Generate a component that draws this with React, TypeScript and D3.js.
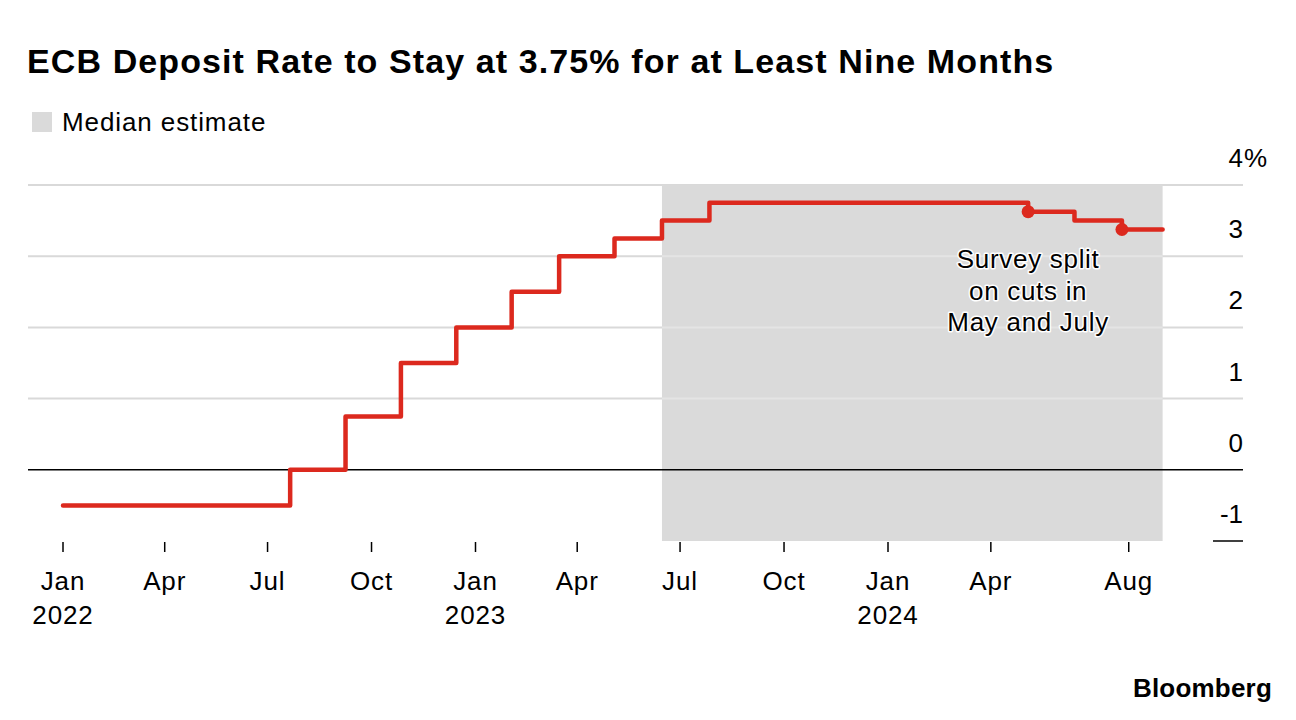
import React, { useEffect } from "react";
import * as d3 from "d3";

// step dates (policy decisions) and the deposit rate that applies from each date
const stepDates = [
  "2022-01-01",
  "2022-07-21",
  "2022-09-08",
  "2022-10-27",
  "2022-12-15",
  "2023-02-02",
  "2023-03-16",
  "2023-05-04",
  "2023-06-15",
  "2023-07-27",
  "2024-05-04",
  "2024-06-14",
  "2024-07-26",
];
const rates = [-0.5, 0, 0.75, 1.5, 2, 2.5, 3, 3.25, 3.5, 3.75, 3.625, 3.5, 3.375];
const lastDate = "2024-08-31";

// survey markers
const markerDates = ["2024-05-04", "2024-07-26"];
const markerRates = [3.625, 3.375];

// median estimate window
const shadeStart = "2023-06-15";
const shadeEnd = "2024-08-31";

const xTickDates = [
  "2022-01-01", "2022-04-01", "2022-07-01", "2022-10-01",
  "2023-01-01", "2023-04-01", "2023-07-01", "2023-10-01",
  "2024-01-01", "2024-04-01", "2024-08-01",
];
const xTickLabels = ["Jan", "Apr", "Jul", "Oct", "Jan", "Apr", "Jul", "Oct", "Jan", "Apr", "Aug"];
const xYearLabels = ["2022", "", "", "", "2023", "", "", "", "2024", "", ""];

const yTicks = [4, 3, 2, 1, 0, -1];

const annotation = ["Survey split", "on cuts in", "May and July"];

const W = 1296;
const H = 720;
const RED = "#dc291e";
const FONT = "'Liberation Sans', Arial, Helvetica, sans-serif";
const LABEL = 26;
const LS = 0.9;

const parse = d3.utcParse("%Y-%m-%d");

const App: React.FC = () => {
  useEffect(() => {
    document.body.style.margin = "0";
  }, []);

  const x = d3
    .scaleUtc()
    .domain([parse("2022-01-01")!, parse("2024-01-01")!])
    .range([63, 888]);

  const y = d3.scaleLinear().domain([-1, 4]).range([541, 185]);

  const gridLeft = 28;
  const gridRight = 1243;

  const series = stepDates.map((d, i) => ({ date: parse(d)!, v: rates[i] }));
  series.push({ date: parse(lastDate)!, v: rates[rates.length - 1] });

  const line = d3
    .line<{ date: Date; v: number }>()
    .x((d) => x(d.date))
    .y((d) => y(d.v))
    .curve(d3.curveStepAfter);

  const sx0 = x(parse(shadeStart)!);
  const sx1 = x(parse(shadeEnd)!);

  const annX = x(parse(markerDates[0])!);

  return (
    <svg width={W} height={H} style={{ display: "block", background: "#fff" }} fontFamily={FONT}>
      {/* title */}
      <text x={27} y={73} fontSize={34} fontWeight="bold" letterSpacing={1.1} fill="#000">
        ECB Deposit Rate to Stay at 3.75% for at Least Nine Months
      </text>

      {/* legend */}
      <rect x={32} y={112} width={20} height={20} fill="#dadada" />
      <text x={62} y={131} fontSize={LABEL} letterSpacing={LS} fill="#000">
        Median estimate
      </text>

      {/* grid */}
      {yTicks
        .filter((t) => t > 0)
        .map((t) => (
          <line
            key={"g" + t}
            x1={gridLeft}
            x2={gridRight}
            y1={y(t)}
            y2={y(t)}
            stroke="#d9d9d9"
            strokeWidth={2}
          />
        ))}

      {/* shaded median estimate window */}
      <rect x={sx0} y={y(4)} width={sx1 - sx0} height={y(-1) - y(4)} fill="#dadada" />
      {yTicks
        .filter((t) => t > 0 && t < 4)
        .map((t) => (
          <line
            key={"gs" + t}
            x1={sx0}
            x2={sx1}
            y1={y(t)}
            y2={y(t)}
            stroke="#e4e4e4"
            strokeWidth={2}
          />
        ))}

      {/* zero line and -1 stub */}
      <line x1={gridLeft} x2={gridRight} y1={y(0)} y2={y(0)} stroke="#000" strokeWidth={1.5} />
      <line x1={1213} x2={gridRight} y1={y(-1)} y2={y(-1)} stroke="#000" strokeWidth={1.5} />

      {/* y labels */}
      {yTicks.map((t) => (
        <g key={"yl" + t}>
          <text x={gridRight} y={y(t) - 18} fontSize={LABEL} textAnchor="end" fill="#000">
            {t}
          </text>
          {t === 4 && (
            <text x={gridRight + 1} y={y(t) - 18} fontSize={LABEL} fill="#000">
              %
            </text>
          )}
        </g>
      ))}

      {/* x ticks */}
      {xTickDates.map((d, i) => {
        const px = x(parse(d)!);
        return (
          <g key={"xt" + i}>
            <line x1={px} x2={px} y1={542} y2={552} stroke="#000" strokeWidth={1.5} />
            <text x={px} y={590} fontSize={LABEL} letterSpacing={LS} textAnchor="middle" fill="#000">
              {xTickLabels[i]}
            </text>
            {xYearLabels[i] && (
              <text x={px} y={624} fontSize={LABEL} letterSpacing={LS} textAnchor="middle" fill="#000">
                {xYearLabels[i]}
              </text>
            )}
          </g>
        );
      })}

      {/* rate line */}
      <path
        d={line(series) || ""}
        fill="none"
        stroke={RED}
        strokeWidth={4.5}
        strokeLinejoin="round"
        strokeLinecap="round"
      />
      {markerDates.map((d, i) => (
        <circle key={"m" + i} cx={x(parse(d)!)} cy={y(markerRates[i])} r={6.5} fill={RED} />
      ))}

      {/* annotation */}
      {annotation.map((s, i) => (
        <text
          key={"a" + i}
          x={annX}
          y={268 + i * 31.5}
          fontSize={LABEL}
          letterSpacing={0.7}
          textAnchor="middle"
          fill="#000"
          stroke="#fff"
          strokeWidth={3}
          strokeLinejoin="round"
          style={{ paintOrder: "stroke" }}
        >
          {s}
        </text>
      ))}

      {/* source */}
      <text x={1272} y={697} fontSize={26} fontWeight="bold" letterSpacing={0.2} textAnchor="end" fill="#000">
        Bloomberg
      </text>
    </svg>
  );
};

export default App;
